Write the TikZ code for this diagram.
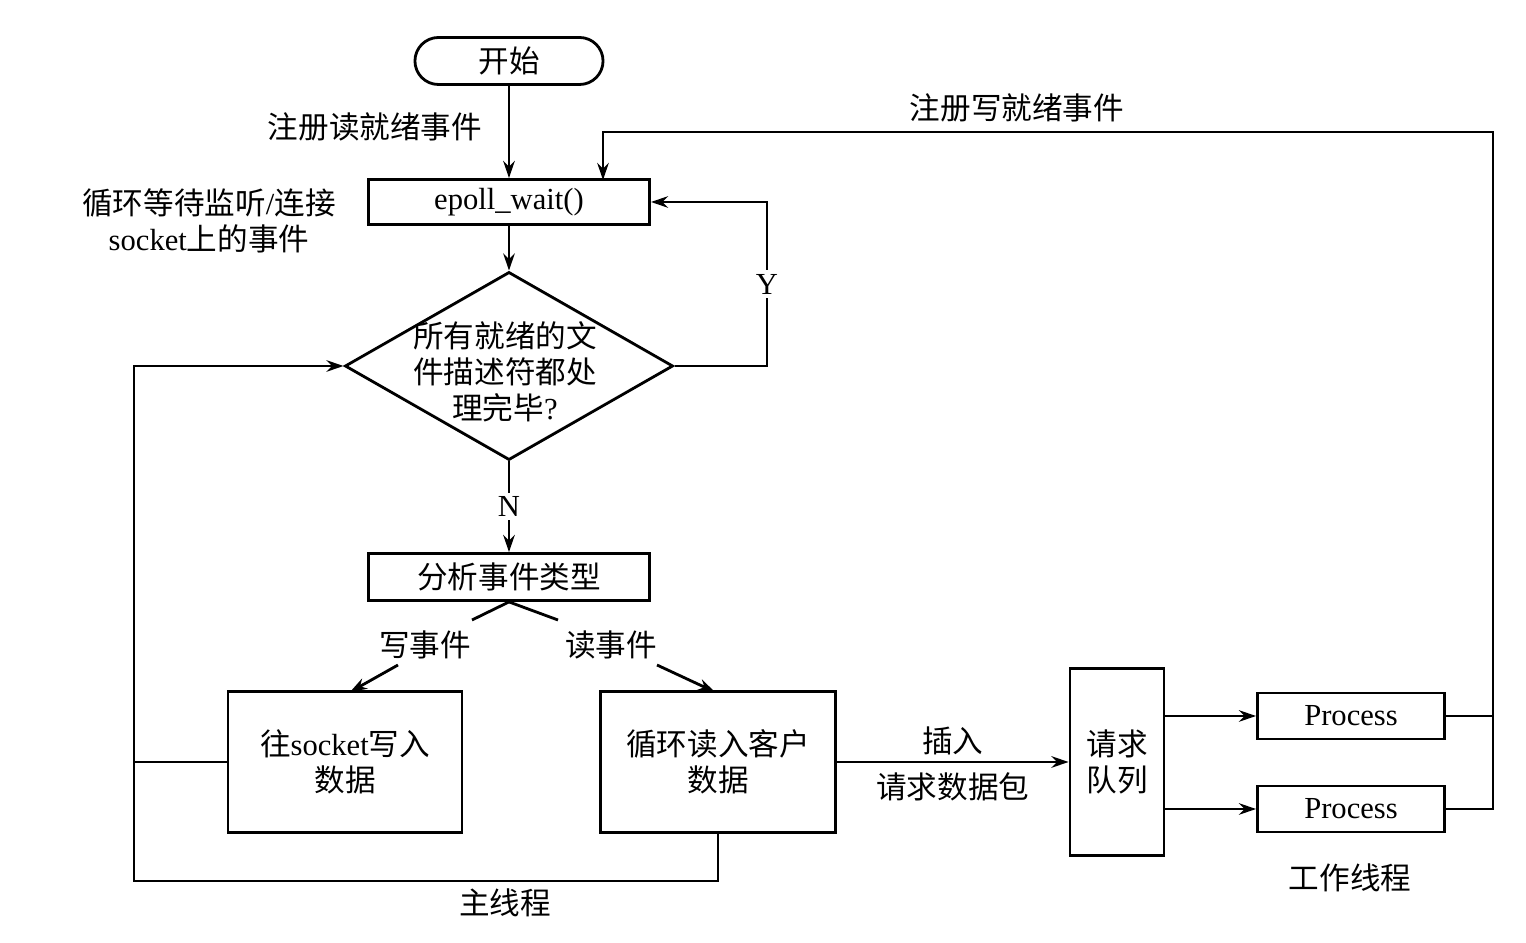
\documentclass[tikz,border=0pt]{standalone}
\usepackage{fontspec}
\setmainfont{Liberation Serif}
\newfontfamily\cjk{Noto Sans CJK SC}
\newcommand{\zh}[1]{{\cjk #1}}
\usetikzlibrary{arrows.meta,positioning,shapes.geometric}

\begin{document}
\begin{tikzpicture}[
  x=0.01cm,y=-0.01cm,
  font=\fontsize{8.7}{10.3}\selectfont,
  line width=0.8pt,
  box/.style={draw,line width=0.8pt,align=center,inner sep=0pt},
  lbl/.style={align=center,inner sep=1pt},
  arr/.style={-{Stealth[length=1.7mm,width=1.15mm]},line width=0.8pt}
]
\useasboundingbox (0,0) rectangle (1526,943);
% main thread
\node[box,rounded corners=0.235cm,minimum width=1.88cm,minimum height=0.47cm] (start) at (509,61) {\zh{开始}};
\node[box,minimum width=2.81cm,minimum height=0.45cm] (epoll) at (509,202) {epoll\_wait()};
\node[box,diamond,aspect=1.745,minimum width=3.28cm,minimum height=1.88cm] (dec) at (509,366) {};
\node[lbl] (dectext) at (505,372) {\zh{所有就绪的文}\\\zh{件描述符都处}\\\zh{理完毕}?};
\node[box,minimum width=2.81cm,minimum height=0.47cm] (ana) at (509,577) {\zh{分析事件类型}};
\node[box,minimum width=2.34cm,minimum height=1.41cm] (wbox) at (345,762) {\zh{往}socket\zh{写入}\\\zh{数据}};
\node[box,minimum width=2.35cm,minimum height=1.41cm] (rbox) at (718,762) {\zh{循环读入客户}\\\zh{数据}};
% worker side
\node[box,minimum width=0.94cm,minimum height=1.87cm] (queue) at (1117,762) {\zh{请求}\\\zh{队列}};
\node[box,minimum width=1.87cm,minimum height=0.46cm] (p1) at (1351,716) {Process};
\node[box,minimum width=1.87cm,minimum height=0.46cm] (p2) at (1351,809) {Process};
% labels
\node[lbl] (regrd) at (375,127) {\zh{注册读就绪事件}};
\node[lbl] (loopwait) at (209,221) {\zh{循环等待监听}/\zh{连接}\\socket\zh{上的事件}};
\node[lbl] (regwr) at (1017,108) {\zh{注册写就绪事件}};
\node[lbl] (wrev) at (425,645) {\zh{写事件}};
\node[lbl] (rdev) at (611,645) {\zh{读事件}};
\node[lbl] (mainth) at (505,903) {\zh{主线程}};
\node[lbl] (workth) at (1350,878) {\zh{工作线程}};
% bends
\coordinate (ybend) at (767,202);
\coordinate (wl1) at (472,620);
\coordinate (wl2) at (398,665);
\coordinate (wl3) at (350,692);
\coordinate (rd1) at (558,620);
\coordinate (rd2) at (657,665);
\coordinate (rd3) at (715,692);
\coordinate (loopbl) at (134,881);
\coordinate (bustop) at (1493,132);
\coordinate (wrin) at (603,180);
% connectors
\draw[arr] (start) -- (epoll);
\draw[arr] (epoll) -- (dec);
\draw[arr] (dec) -- node[lbl,fill=white]{N} (ana);
\draw[arr] (dec.east) -| node[lbl,fill=white,pos=0.75]{Y} (ybend) -- (epoll.east);
\draw (ana.south) -- (wl1);
\draw[arr] (wl2) -- (wl3);
\draw (ana.south) -- (rd1);
\draw[arr] (rd2) -- (rd3);
\draw[arr] (rbox.south) |- (loopbl) |- (dec.west);
\draw (wbox.west) -- (wbox.west -| loopbl);
\draw[arr] (rbox.east) -- node[lbl,above=0.5pt]{\zh{插入}} node[lbl,below=1.7pt]{\zh{请求数据包}} (queue.west);
\draw[arr] (queue.east |- p1.west) -- (p1.west);
\draw[arr] (queue.east |- p2.west) -- (p2.west);
\draw[arr] (p2.east) -| (bustop) -| (wrin);
\draw (p1.east) -- (p1.east -| bustop);
\end{tikzpicture}
\end{document}
